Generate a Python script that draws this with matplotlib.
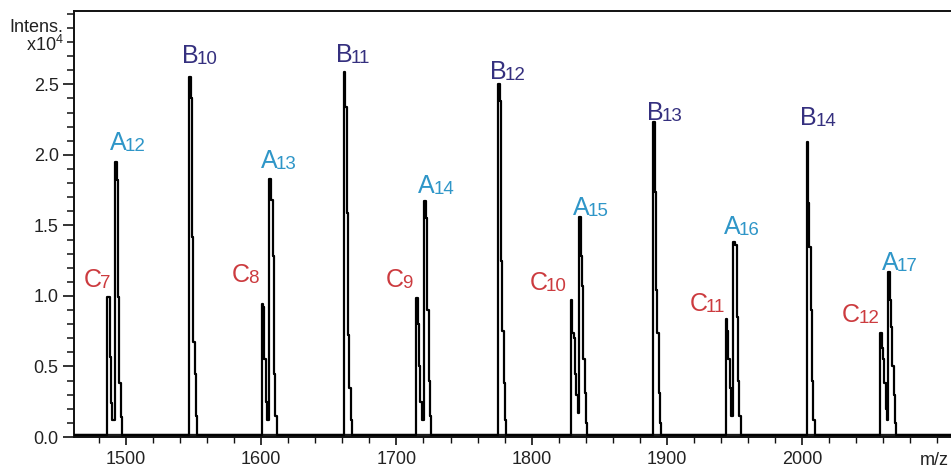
import matplotlib
matplotlib.use("Agg")
import matplotlib.pyplot as plt
from matplotlib.ticker import MultipleLocator, FixedLocator

plt.rcParams['font.family'] = ['Liberation Sans', 'DejaVu Sans']
plt.rcParams['mathtext.fontset'] = 'custom'
plt.rcParams['mathtext.rm'] = 'Liberation Sans'
plt.rcParams['mathtext.it'] = 'Liberation Sans'

# ---- data (intensity in units of 1e4) ----
isotope_spacing = 1.0   # m/z step between isotope peaks (singly charged)

B_letter, B_index = 'B', ['10', '11', '12', '13', '14']
B_mz = [1547.3, 1661.6, 1775.9, 1890.4, 2003.9]
B_int = [
    [2.55, 2.40, 1.42, 0.67, 0.45, 0.15],
    [2.59, 2.34, 1.59, 0.72, 0.35, 0.12],
    [2.50, 2.38, 1.25, 0.75, 0.38, 0.12],
    [2.23, 1.74, 1.04, 0.74, 0.31, 0.10],
    [2.09, 1.66, 1.35, 0.90, 0.40, 0.12],
]

A_letter, A_index = 'A', ['12', '13', '14', '15', '16', '17']
A_mz = [1492.6, 1607.0, 1721.4, 1835.8, 1950.2, 2064.3]
A_int = [
    [1.95, 1.82, 0.99, 0.38, 0.14],
    [1.83, 1.68, 1.28, 0.45, 0.15],
    [1.67, 1.55, 0.90, 0.40, 0.15],
    [1.56, 1.28, 1.07, 0.55, 0.31, 0.10],
    [1.38, 1.36, 0.85, 0.40, 0.15],
    [1.17, 0.97, 0.78, 0.50, 0.30, 0.10],
]

C_letter, C_index = 'C', ['7', '8', '9', '10', '11', '12']
C_mz = [1486.4, 1600.8, 1715.2, 1829.6, 1944.0, 2058.3]
C_int = [
    [0.995, 0.99, 0.57, 0.24, 0.12],
    [0.94, 0.92, 0.55, 0.25, 0.12],
    [0.985, 0.80, 0.50, 0.25, 0.12],
    [0.97, 0.74, 0.70, 0.45, 0.30, 0.17],
    [0.84, 0.75, 0.55, 0.35, 0.15],
    [0.74, 0.63, 0.55, 0.38, 0.20, 0.12],
]

noise_level = 0.014
mz_range = [1461.5, 2110.2]
y_range = [0.0, 3.02]
y_tick_labels = ['0.0', '0.5', '1.0', '1.5', '2.0', '2.5']
y_tick_values = [0.0, 0.5, 1.0, 1.5, 2.0, 2.5]
x_tick_values = [1500, 1600, 1700, 1800, 1900, 2000]

# ---- style: label offsets (left edge, baseline) from the peak apex, in pixels ----
B_label_off = [(-8, 14), (-9, 10), (-9, 5), (-7, 2), (-7, 17)]
A_label_off = [(-6, 12), (-10, 11), (-7, 8), (-7, 2), (-11, 8), (-7, 2)]
C_label_off = [(-24, 10), (-31, 22), (-31, 11), (-42, 10), (-37, 8), (-39, 11)]

col_B = '#35307f'
col_A = '#2f96c8'
col_C = '#cc3b3f'

# ---- assemble spectrum profile from the isotope lists ----
clusters = []
for m0, ints in zip(B_mz + A_mz + C_mz, B_int + A_int + C_int):
    clusters.append((m0, ints))
clusters.sort(key=lambda c: c[0])

xs, ys = [mz_range[0]], [noise_level]
prev_end = mz_range[0]
for m0, ints in clusters:
    if m0 - prev_end > 3:
        xs.append(prev_end + isotope_spacing)
        ys.append(noise_level)
        xs.append(m0 - isotope_spacing)
        ys.append(noise_level)
    for k, h in enumerate(ints):
        xs.append(m0 + k * isotope_spacing)
        ys.append(h)
    prev_end = m0 + (len(ints) - 1) * isotope_spacing
xs.append(prev_end + isotope_spacing)
ys.append(noise_level)
xs.append(mz_range[1])
ys.append(noise_level)

fig = plt.figure(figsize=(9.51, 4.68), dpi=100)
ax = fig.add_axes([74 / 951, 1 - 437 / 468, 1 - 74 / 951, (437 - 11) / 468])

ax.plot(mz_range, [noise_level, noise_level], color='#1a1a1a', lw=2.4,
        solid_capstyle='butt', zorder=2)
ax.plot(xs, ys, color='black', lw=1.6, drawstyle='steps-mid', zorder=3)

ax.set_xlim(mz_range)
ax.set_ylim(y_range)

ax.spines['right'].set_visible(False)
for sp in ['left', 'top', 'bottom']:
    ax.spines[sp].set_linewidth(1.4)
    ax.spines[sp].set_color('#111111')

ax.yaxis.set_major_locator(FixedLocator(y_tick_values))
ax.set_yticklabels(y_tick_labels)
ax.yaxis.set_minor_locator(MultipleLocator(0.1))
ax.xaxis.set_major_locator(FixedLocator(x_tick_values))
ax.xaxis.set_minor_locator(MultipleLocator(20))
ax.tick_params(axis='both', which='major', direction='out', labelsize=13,
               labelcolor='#222222', color='#111111', width=1.2)
ax.tick_params(axis='y', which='major', length=8, pad=3)
ax.tick_params(axis='y', which='minor', length=5, width=1.1, color='#111111')
ax.tick_params(axis='x', which='major', length=6, pad=4)
ax.tick_params(axis='x', which='minor', length=4, width=1.0, color='#111111')

# axis captions
ax.text(-0.012, 2.9, 'Intens.', transform=ax.get_yaxis_transform(),
        ha='right', va='center', fontsize=13, color='#222222')
ax.text(-0.012, 2.78, r'x10$^{\mathregular{4}}$', transform=ax.get_yaxis_transform(),
        ha='right', va='center', fontsize=13, color='#222222')
ax.text(0.997, -0.035, 'm/z', transform=ax.transAxes, ha='right', va='top',
        fontsize=13, color='#222222')

# peak labels: big letter + subscript index
px2pt = 72 / 100
def label(letter, idx, mzs, ints, offs, color):
    for n, m, h, (dx, dy) in zip(idx, mzs, ints, offs):
        t = ax.annotate(letter, xy=(m, h[0]),
                        xytext=(dx * px2pt, dy * px2pt), textcoords='offset points',
                        ha='left', va='baseline', fontsize=18, color=color)
        ax.annotate(n, xy=(1.0, 0.0), xycoords=t, xytext=(-1.2, 0),
                    textcoords='offset points', ha='left', va='bottom',
                    fontsize=13.5, color=color)

label(B_letter, B_index, B_mz, B_int, B_label_off, col_B)
label(A_letter, A_index, A_mz, A_int, A_label_off, col_A)
label(C_letter, C_index, C_mz, C_int, C_label_off, col_C)

fig.savefig('out.png', dpi=100)
